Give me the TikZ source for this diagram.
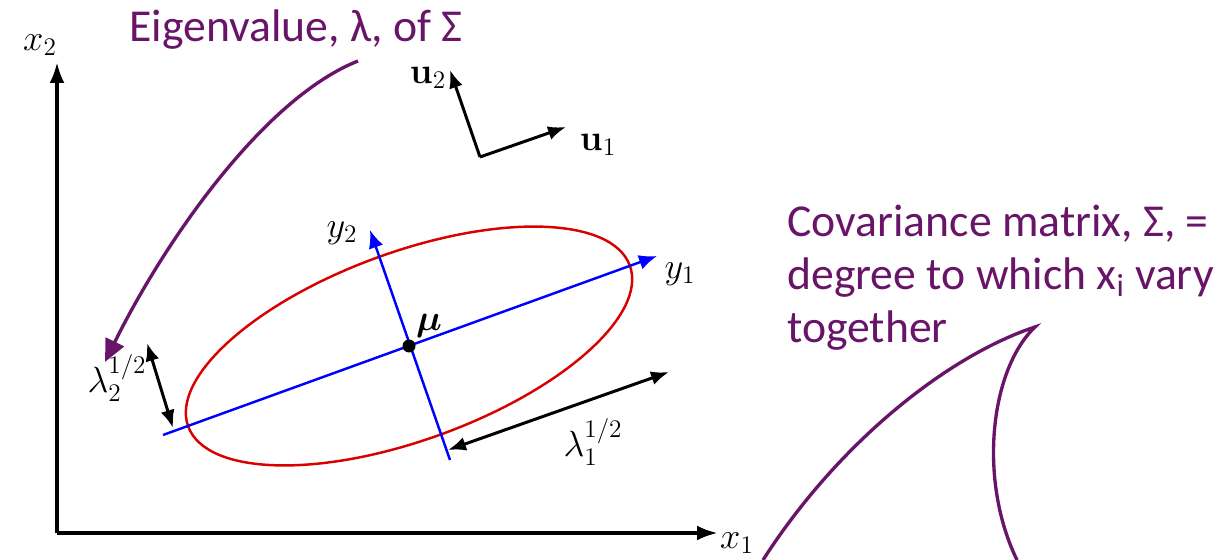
\documentclass[tikz,border=0pt]{standalone}
\usepackage{amsmath,amssymb}
\usepackage[no-math]{fontspec}
\setmainfont{Carlito}
\usetikzlibrary{arrows.meta,positioning}
\definecolor{plum}{RGB}{104,20,104}
\begin{document}
\begin{tikzpicture}[x=0.02cm, y=-0.02cm,
  mlbl/.style={font=\fontsize{20}{22}\selectfont, inner sep=1pt},
  note/.style={font=\fontsize{26}{30.2}\selectfont, text=plum, align=left, inner sep=0pt},
  axis/.style={-{Latex[length=4.2mm, width=3mm]}, line width=2.2pt},
  vec/.style={-{Latex[length=3.6mm, width=2.8mm]}, line width=1.7pt},
  both/.style={{Latex[length=3.6mm, width=2.8mm]}-{Latex[length=3.6mm, width=2.8mm]}, line width=1.7pt},
  eig/.style={-{Latex[length=3.6mm, width=3mm]}, blue, line width=1.4pt},
  callout/.style={plum, line width=1.9pt}
]
\useasboundingbox (0,0) rectangle (1228,560);
% axes
\coordinate (O) at (57,533);
\coordinate (x2end) at (57,62);
\coordinate (x1end) at (718,533);
\draw[axis] (O) -- (x2end);
\draw[axis] (O) -- (x1end);
\node[mlbl] (x2lbl) at (40,45) {$x_2$};
\node[mlbl] (x1lbl) at (737,543) {$x_1$};
% basis vectors
\coordinate (ucorner) at (480,157);
\coordinate (u2end) at (450,70);
\coordinate (u1end) at (566,127);
\draw[vec] (ucorner) -- (u2end);
\draw[vec] (ucorner) -- (u1end);
\node[mlbl] (u2lbl) at (428,78) {$\mathbf{u}_2$};
\node[mlbl] (u1lbl) at (598,145) {$\mathbf{u}_1$};
% ellipse and its axes
\coordinate (mu) at (409,346);
\draw[red!85!black, line width=1.4pt, rotate around={20:(mu)}] (mu) ellipse [x radius=235, y radius=94];
\coordinate (y1start) at (163,435);
\coordinate (y1end) at (657,256);
\coordinate (y2start) at (450,460);
\coordinate (y2end) at (370,230);
\draw[eig] (y1start) -- (y1end);
\draw[eig] (y2start) -- (y2end);
\fill (mu) circle (6.5);
\node[mlbl] (y1lbl) at (680,274) {$y_1$};
\node[mlbl] (y2lbl) at (342,233) {$y_2$};
\node[mlbl] (mulbl) at (429,326) {$\boldsymbol{\mu}$};
% square roots of the eigenvalues
\coordinate (l2a) at (147,343);
\coordinate (l2b) at (173,428);
\coordinate (l1a) at (448,450);
\coordinate (l1b) at (669,372);
\draw[both] (l2a) -- (l2b);
\draw[both] (l1a) -- (l1b);
\node[mlbl] (l2lbl) at (117,378) {$\lambda_2^{1/2}$};
\node[mlbl] (l1lbl) at (593,442) {$\lambda_1^{1/2}$};
% callouts
\node[note] (eigtxt) at (296,30) {Eigenvalue, λ, of Σ};
\coordinate (eigstart) at (358,61);
\coordinate (eigtip) at (105,362);
\draw[callout, -{Triangle[length=4.5mm, width=4mm]}] (eigstart) .. controls (260,100) and (160,250) .. (eigtip);
\node[note, anchor=north west] (covtxt) at (787,205) {Covariance matrix, Σ, =\\degree to which x\textsubscript{i} vary\\together};
\coordinate (covtip) at (1035,327);
\coordinate (covleft) at (763,560);
\coordinate (covright) at (1017,560);
\draw[callout] (covleft) .. controls (840,440) and (950,355) .. (covtip)
  .. controls (990,370) and (978,480) .. (covright);
\end{tikzpicture}
\end{document}
